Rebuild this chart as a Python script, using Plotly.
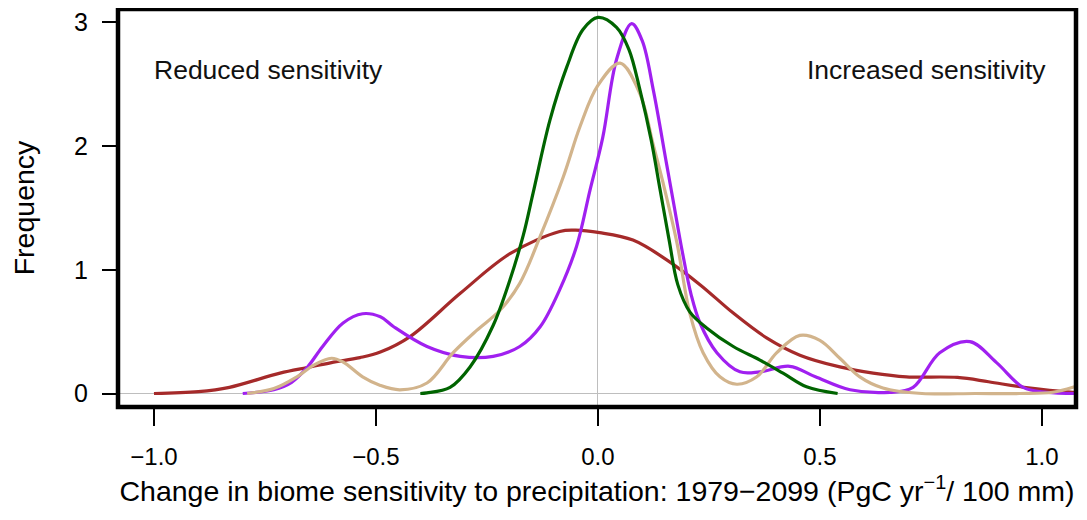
import plotly.graph_objects as go

# ---- data ----
brown_x = [-1.0, -0.9, -0.83, -0.716, -0.655, -0.60, -0.536, -0.49, -0.423, -0.31, -0.198, -0.086,
           -0.05, 0.004, 0.079, 0.155, 0.23, 0.305, 0.38, 0.455, 0.545, 0.62, 0.695, 0.81, 0.88, 0.96,
           1.07, 1.15]
brown_y = [0.0, 0.015, 0.05, 0.165, 0.21, 0.25, 0.29, 0.335, 0.46, 0.81, 1.13, 1.31,
           1.32, 1.30, 1.24, 1.08, 0.88, 0.65, 0.45, 0.31, 0.215, 0.165, 0.135, 0.13, 0.095, 0.05,
           0.01, 0.0]

purple_x = [-0.80, -0.73, -0.69, -0.655, -0.62, -0.574, -0.53, -0.49, -0.46, -0.385, -0.31, -0.236,
            -0.176, -0.13, -0.086, -0.048, -0.018, 0.011, 0.042, 0.076, 0.10, 0.125, 0.155, 0.17,
            0.19, 0.21, 0.23, 0.268, 0.32, 0.365, 0.432, 0.49, 0.568, 0.658, 0.71, 0.77, 0.838,
            0.898, 0.958, 1.01, 1.08]
purple_y = [0.0, 0.03, 0.09, 0.21, 0.38, 0.57, 0.645, 0.62, 0.54, 0.38, 0.30, 0.30,
            0.38, 0.54, 0.84, 1.19, 1.64, 2.07, 2.70, 2.99, 2.85, 2.45, 1.85, 1.55,
            1.15, 0.80, 0.57, 0.33, 0.175, 0.175, 0.22, 0.135, 0.03, 0.01, 0.05, 0.33, 0.42,
            0.25, 0.05, 0.01, 0.0]

green_x = [-0.40, -0.385, -0.333, -0.288, -0.236, -0.198, -0.168, -0.146, -0.108, -0.07, -0.034,
           0.0, 0.042, 0.07, 0.095, 0.12, 0.14, 0.16, 0.18, 0.207, 0.245, 0.305, 0.365, 0.417,
           0.47, 0.54]
green_y = [0.0, 0.005, 0.05, 0.215, 0.55, 0.92, 1.28, 1.62, 2.21, 2.64, 2.94,
           3.04, 2.96, 2.78, 2.45, 2.05, 1.65, 1.25, 0.88, 0.66, 0.53, 0.38, 0.27, 0.165,
           0.055, 0.0]

tan_x = [-0.79, -0.73, -0.678, -0.64, -0.60, -0.574, -0.53, -0.49, -0.446, -0.385, -0.326, -0.273,
         -0.22, -0.176, -0.13, -0.078, -0.04, 0.0, 0.05, 0.095, 0.124, 0.147, 0.178, 0.207, 0.237,
         0.275, 0.313, 0.358, 0.403, 0.455, 0.50, 0.545, 0.59, 0.642, 0.73, 0.85, 0.95, 1.025,
         1.07, 1.12]
tan_y = [0.0, 0.04, 0.135, 0.23, 0.285, 0.255, 0.135, 0.065, 0.03, 0.085, 0.33, 0.51,
         0.675, 0.89, 1.27, 1.75, 2.16, 2.49, 2.67, 2.42, 2.02, 1.70, 1.22, 0.65, 0.33,
         0.135, 0.075, 0.135, 0.33, 0.47, 0.43, 0.285, 0.135, 0.045, 0.0, 0.0, 0.0, 0.01,
         0.05, 0.12]

x_ticks = [-1.0, -0.5, 0.0, 0.5, 1.0]
x_ticktext = ["\u22121.0", "\u22120.5", "0.0", "0.5", "1.0"]
y_ticks = [0, 1, 2, 3]
y_ticktext = ["0", "1", "2", "3"]

x_title = "Change in biome sensitivity to precipitation: 1979\u22122099 (PgC yr<sup>\u22121</sup>/ 100 mm)"
y_title = "Frequency"
left_label = "Reduced sensitivity"
right_label = "Increased sensitivity"

FONT = "Liberation Sans, Arial, sans-serif"

fig = go.Figure()
series = [
    (brown_x, brown_y, "#A52A2A"),
    (purple_x, purple_y, "#A020F0"),
    (tan_x, tan_y, "#D2B48C"),
    (green_x, green_y, "#006400"),
]
for xs, ys, col in series:
    fig.add_trace(go.Scatter(x=xs, y=ys, mode="lines",
                             line=dict(color=col, width=3.2, shape="spline", smoothing=1.0),
                             showlegend=False, hoverinfo="skip"))

fig.add_annotation(x=-1.005, y=2.615, xref="x", yref="y", text=left_label, showarrow=False,
                   xanchor="left", yanchor="middle", font=dict(family=FONT, size=26.5, color="#111"))
fig.add_annotation(x=1.014, y=2.615, xref="x", yref="y", text=right_label, showarrow=False,
                   xanchor="right", yanchor="middle", font=dict(family=FONT, size=26.5, color="#111"))

# frame
fig.add_shape(type="rect", xref="paper", yref="paper", x0=0, x1=1, y0=0, y1=1,
              line=dict(color="black", width=4.5), layer="above")

fig.update_layout(
    width=1079, height=512,
    margin=dict(l=110, r=11, t=1, b=113),
    paper_bgcolor="white", plot_bgcolor="white",
    font=dict(family=FONT, size=24, color="black"),
    xaxis=dict(range=[-1.081, 1.077], tickvals=x_ticks, ticktext=x_ticktext,
               ticks="outside", ticklen=18, tickwidth=1.5, tickcolor="black",
               ticklabelstandoff=10,
               showgrid=False, showline=False, zeroline=True, zerolinecolor="#BEBEBE",
               zerolinewidth=1, tickfont=dict(size=24),
               title=dict(text=x_title, font=dict(size=28.5), standoff=12)),
    yaxis=dict(range=[-0.109, 3.108], tickvals=y_ticks, ticktext=y_ticktext,
               ticks="outside", ticklen=15, tickwidth=1.5, tickcolor="black",
               ticklabelstandoff=9,
               showgrid=False, showline=False, zeroline=True, zerolinecolor="#BEBEBE",
               zerolinewidth=1, tickfont=dict(size=25),
               title=dict(text=y_title, font=dict(size=28.5), standoff=35)),
)

fig.write_html("out.html")
